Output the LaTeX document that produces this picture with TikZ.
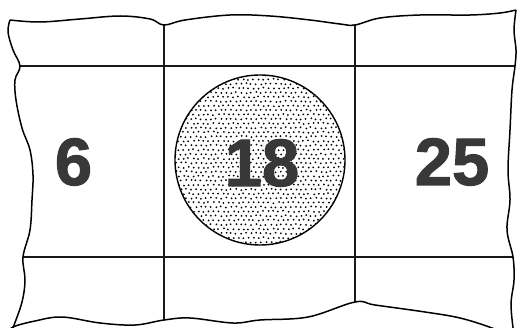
\documentclass[tikz,border=0pt]{standalone}
\usepackage{fontspec}
\setmainfont{Liberation Sans}
\newfontface\heavyface{Liberation Sans Bold}[FakeBold=1.5]
\begin{document}
\begin{tikzpicture}[x=1pt,y=-1pt,
  gridline/.style={line width=2.9pt,draw=black!90},
  torn/.style={line width=1.5pt,draw=black,line join=round},
  daynum/.style={inner sep=0pt,anchor=base,text=black!78,font=\heavyface\fontsize{67}{67}\selectfont}]
\useasboundingbox (0,0) rectangle (518,328);
\begin{scope}
\clip (0,0) rectangle (518,328);
% grid lines
\draw[gridline] (20,66) -- (515,66);
\draw[gridline] (23,257) -- (513,257);
\draw[gridline] (164,24) -- (164,320);
\draw[gridline] (355,24) -- (355,302);
% torn outline
\draw[torn] plot[smooth,tension=0.6] coordinates {(10,20) (40,22) (80,19) (120,16) (150,19) (164,25) (185,20) (230,15) (270,16) (310,20) (340,24) (355,25) (380,18) (420,15) (470,15) (500,13) (516,10)};
\draw[torn] plot[smooth,tension=0.6] coordinates {(10,20) (8,32) (13,50) (20,66) (15,80) (16,100) (22,128) (30,150) (33,175) (32,200) (30,230) (23,257) (25,280) (22,302) (13,328) (11,334)};
\draw[torn] plot[smooth,tension=0.6] coordinates {(516,10) (514,30) (516,50) (515,66) (512,90) (510,130) (508,170) (510,200) (507,230) (513,257) (514,280) (511,305) (514,335)};
\draw[torn] plot[smooth,tension=0.6] coordinates {(6,334) (13,327) (35,321) (62,317) (100,323) (135,325) (164,320) (190,318) (233,323) (260,320) (308,317) (355,302) (375,305) (425,312) (460,318) (492,328) (505,335)};
\end{scope}
% stippled circle
\coordinate (C) at (260,160);
\begin{scope}
\clip (C) circle (85);
\pgfmathsetseed{7}
\foreach \r in {0,...,39} {
  \foreach \c in {0,...,35} {
    \fill[black] ({176+\c*5+mod(\r,2)*2.5+rand*0.7},{75+\r*4.4+rand*0.7}) circle (1.0);
  }
}
\end{scope}
\draw[line width=1.4pt,draw=black] (C) circle (85);
% numbers
\node[daynum] (d6) at (73.5,185) {6};
\node[daynum] (d18) at (262,186) {18};
\node[daynum] (d25) at (452,185) {25};
\end{tikzpicture}
\end{document}
